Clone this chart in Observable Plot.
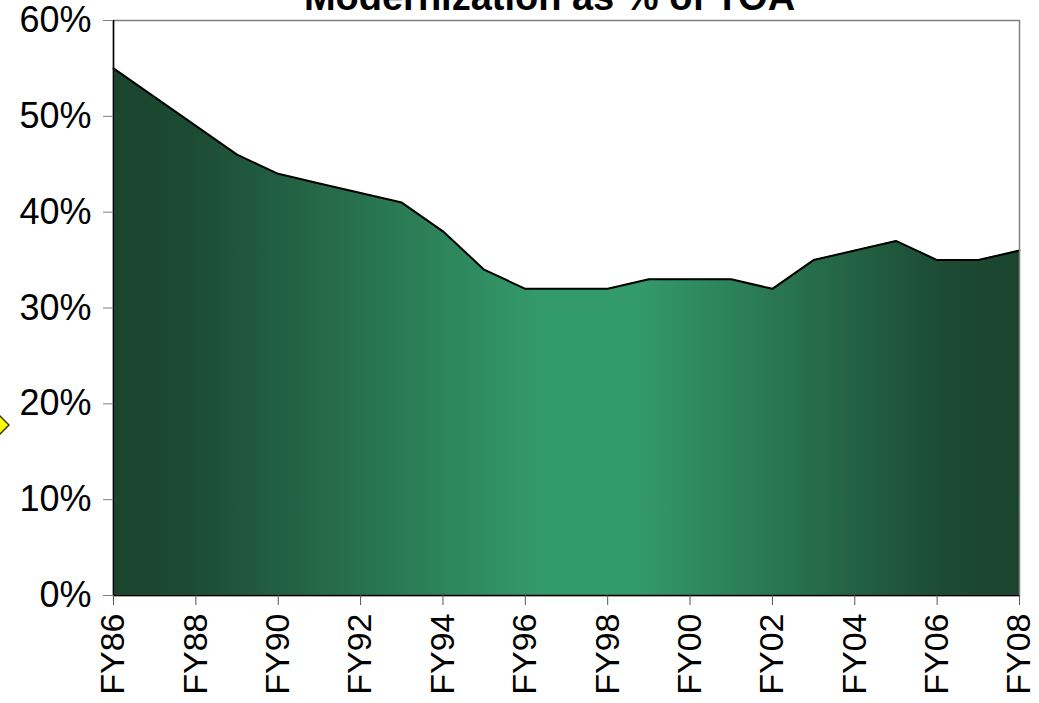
<!DOCTYPE html>
<html>
<head>
<meta charset="utf-8">
<script src="https://cdn.jsdelivr.net/npm/d3@7"></script>
<script src="https://cdn.jsdelivr.net/npm/@observablehq/plot@0.6"></script>
<style>
  html, body { margin: 0; padding: 0; background: #fff; }
  #wrap { position: relative; width: 1039px; height: 703px; overflow: hidden; }
  #marker { position: absolute; left: -16px; top: 412px; }
</style>
</head>
<body>
<div id="wrap">
  <div id="chart"></div>
  <svg id="marker" width="26" height="26" viewBox="0 0 26 26"><polygon points="13,1 25,13 13,25 1,13" fill="#ffff00" stroke="#333300" stroke-width="1.5"/></svg>
</div>
<script>
const titleText = ["Modernization as % of TOA"];
const years = d3.range(1986, 2009);
const shares = [55, 52, 49, 46, 44, 43, 42, 41, 38, 34, 32, 32, 32, 33, 33, 33, 32, 35, 36, 37, 35, 35, 36];
const yTicks = [0, 10, 20, 30, 40, 50, 60];
const xTicks = d3.range(1986, 2009, 2);

const data = years.map((y, i) => ({year: y, value: shares[i]}));

const gradientDefs = () => {
  const defs = d3.create("svg:defs");
  const g = defs.append("linearGradient").attr("id", "greenGrad")
    .attr("x1", "0%").attr("x2", "100%").attr("y1", "0%").attr("y2", "0%");
  g.append("stop").attr("offset", "0%").attr("stop-color", "#1a442e");
  g.append("stop").attr("offset", "8%").attr("stop-color", "#1c4a33");
  g.append("stop").attr("offset", "47%").attr("stop-color", "#339a6a");
  g.append("stop").attr("offset", "58%").attr("stop-color", "#339a6a");
  g.append("stop").attr("offset", "92%").attr("stop-color", "#1c4a33");
  g.append("stop").attr("offset", "100%").attr("stop-color", "#1a442e");
  return defs.node();
};

const chart = Plot.plot({
  width: 1039,
  height: 703,
  marginLeft: 113,
  marginRight: 20,
  marginTop: 20,
  marginBottom: 108,
  style: {fontFamily: "'Liberation Sans', Arial, sans-serif", fontSize: "34px", color: "#000", background: "#fff"},
  x: {domain: [1986, 2008], label: null},
  y: {domain: [0, 60], label: null},
  marks: [
    gradientDefs,
    Plot.areaY(data, {x: "year", y: "value", fill: "url(#greenGrad)"}),
    Plot.lineY(data, {x: "year", y: "value", stroke: "#000", strokeWidth: 2}),
    Plot.frame({stroke: "#808080", strokeWidth: 1.5}),
    Plot.ruleY([0], {stroke: "#000", strokeWidth: 1.5}),
    Plot.ruleX([1986], {stroke: "#000", strokeWidth: 1.5}),
    Plot.axisY({ticks: yTicks, tickFormat: d => d + "%", tickSize: 10, tickPadding: 12, stroke: "#808080", fill: "#000", fontSize: 36, label: null}),
    Plot.axisX({ticks: xTicks, tickFormat: d => "FY" + String(d).slice(2), tickRotate: -90, tickSize: 10, tickPadding: 8, stroke: "#555", fill: "#000", fontSize: 34, label: null}),
    Plot.text(titleText, {frameAnchor: "top", text: d => d, dy: -11, dx: -17, lineAnchor: "bottom", fontSize: 38, fontWeight: "bold", fill: "#000"})
  ]
});
document.getElementById("chart").appendChild(chart);
</script>
</body>
</html>
